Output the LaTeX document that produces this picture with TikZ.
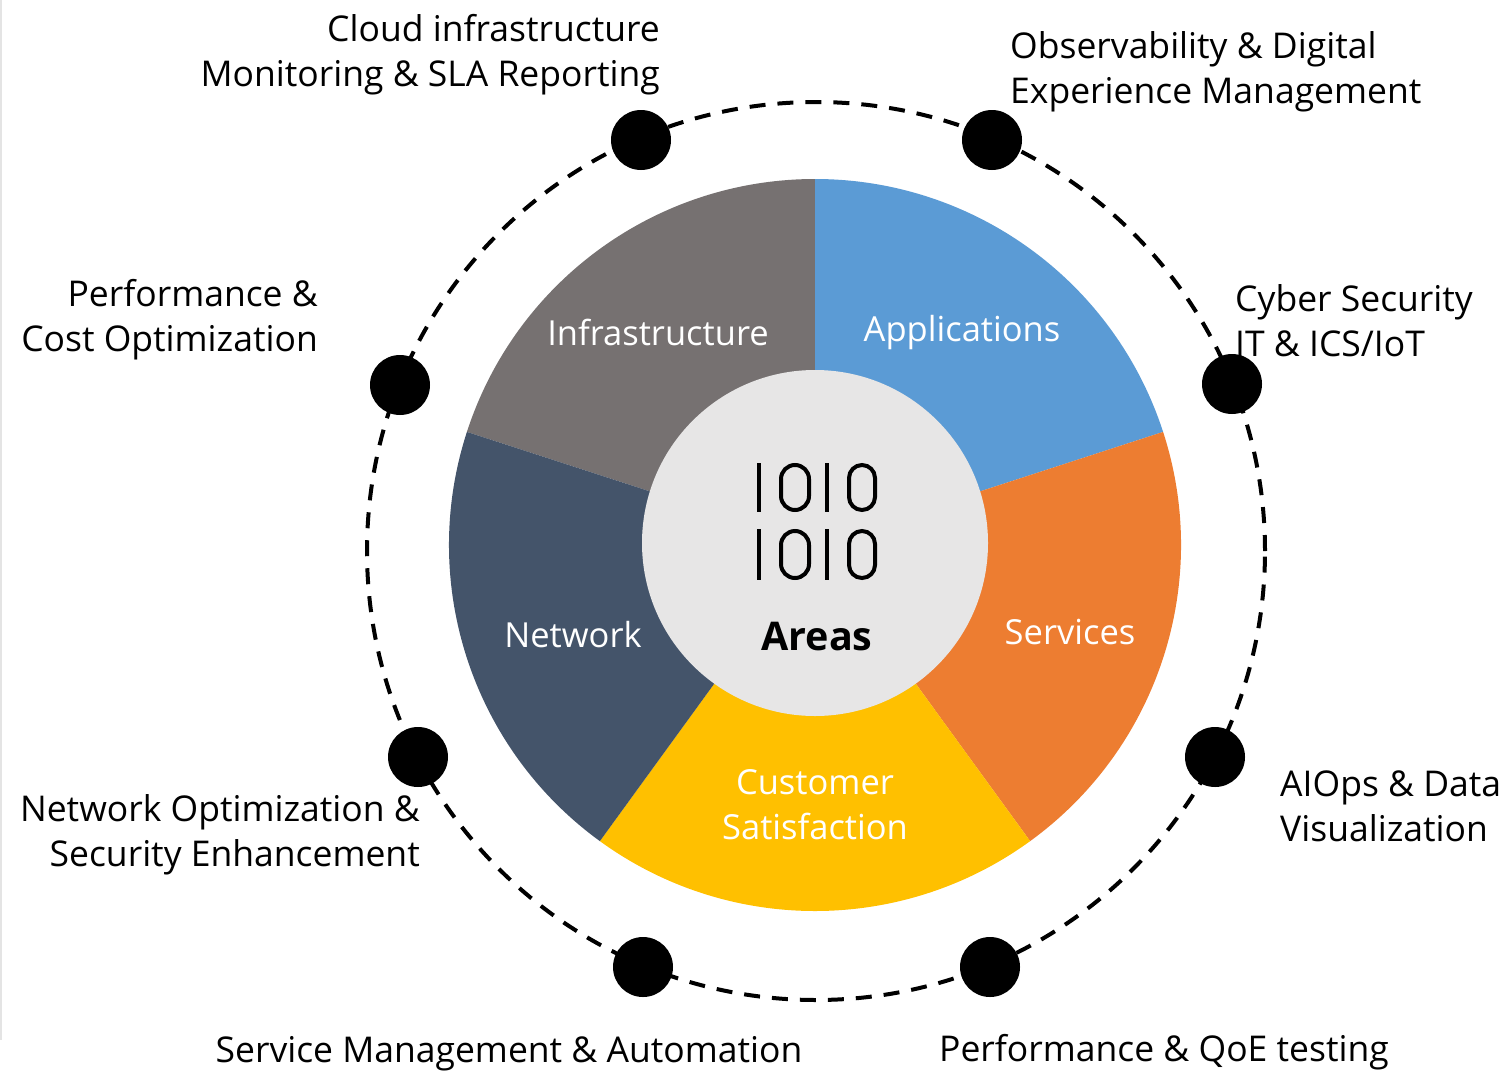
\documentclass[tikz,border=0pt]{standalone}
\usepackage{fontspec}
\setmainfont{Open Sans}
\definecolor{cinf}{HTML}{767171}
\definecolor{capp}{HTML}{5B9BD5}
\definecolor{cser}{HTML}{ED7D31}
\definecolor{ccus}{HTML}{FFC000}
\definecolor{cnet}{HTML}{44546A}
\definecolor{ccore}{HTML}{E7E6E6}
\definecolor{cedge}{HTML}{E4E4E4}
\begin{document}
\begin{tikzpicture}[x=1pt,y=-1pt,
  lbl/.style={font=\fontsize{35.5}{45}\selectfont, inner sep=0pt, text=black},
  slbl/.style={font=\fontsize{34.5}{45}\selectfont, inner sep=0pt, text=white, align=center},
  dot/.style={circle, fill=black, minimum size=60pt, inner sep=0pt},
  ring/.style={line width=4pt, dash pattern=on 16pt off 12pt},
  bin/.style={line width=4pt, line cap=butt}]
\useasboundingbox (0,0) rectangle (1511,1081);
\fill[white] (0,0) rectangle (1511,1081);
\draw[cedge, line width=2pt] (1,0) -- (1,1040);
\coordinate (C) at (815,545);
\coordinate (O) at (816,551);
% pie slices
\fill[cinf] (C) -- ([shift={(C)}]90:366pt) arc[start angle=90,end angle=162,radius=366pt] -- cycle;
\fill[capp] (C) -- ([shift={(C)}]18:366pt) arc[start angle=18,end angle=90,radius=366pt] -- cycle;
\fill[cser] (C) -- ([shift={(C)}]-54:366pt) arc[start angle=-54,end angle=18,radius=366pt] -- cycle;
\fill[ccus] (C) -- ([shift={(C)}]-126:366pt) arc[start angle=-126,end angle=-54,radius=366pt] -- cycle;
\fill[cnet] (C) -- ([shift={(C)}]162:366pt) arc[start angle=162,end angle=234,radius=366pt] -- cycle;
% core
\node[circle, fill=ccore, minimum size=346pt, inner sep=0pt] (core) at (815,543) {};
% binary icon
\draw[bin] (759,463) -- (759,512);
\draw[bin, rounded corners=14pt] (781,465) rectangle (809,510);
\draw[bin] (827,463) -- (827,512);
\draw[bin, rounded corners=13pt] (849,465) rectangle (875,510);
\draw[bin] (759,529) -- (759,580);
\draw[bin, rounded corners=14pt] (781,531) rectangle (809,578);
\draw[bin] (827,529) -- (827,580);
\draw[bin, rounded corners=13pt] (849,531) rectangle (875,578);
\node[inner sep=0pt, font=\fontsize{39.5}{45}\selectfont\bfseries] (areas) at (817,637) {Areas};
% slice labels
\node[slbl] (infra) at (658,332) {Infrastructure};
\node[slbl] (apps) at (962,333) {Applications};
\node[slbl] (serv) at (1070,632) {Services};
\node[slbl] (netw) at (573,635) {Network};
\node[slbl] (cust) at (815,805) {Customer\\Satisfaction};
% dashed ring and dots
\draw[ring] (O) circle[radius=449pt];
\node[dot] (d1) at (641,140) {};
\node[dot] (d2) at (992,140) {};
\node[dot] (d3) at (1232,384) {};
\node[dot] (d4) at (1215,757) {};
\node[dot] (d5) at (990,967) {};
\node[dot] (d6) at (643,967) {};
\node[dot] (d7) at (418,757) {};
\node[dot] (d8) at (400,385) {};
% outer labels
\node[lbl, align=right, anchor=east] (t1) at (660,55) {Cloud infrastructure\\Monitoring \& SLA Reporting};
\node[lbl, align=left, anchor=west] (t2) at (1010,72) {Observability \& Digital\\Experience Management};
\node[lbl, align=right, anchor=east] (t3) at (318,319.5) {Performance \&\\Cost Optimization};
\node[lbl, align=left, anchor=west] (t4) at (1235,320.5) {Cyber Security\\IT \& ICS/IoT};
\node[lbl, align=left, anchor=west] (t5) at (1280,806) {AIOps \& Data\\Visualization};
\node[lbl, align=right, anchor=east] (t6) at (420,834.5) {Network Optimization \&\\Security Enhancement};
\node[lbl] (t7) at (509,1054) {Service Management \& Automation};
\node[lbl] (t8) at (1164,1052) {Performance \& QoE testing};
\end{tikzpicture}
\end{document}
